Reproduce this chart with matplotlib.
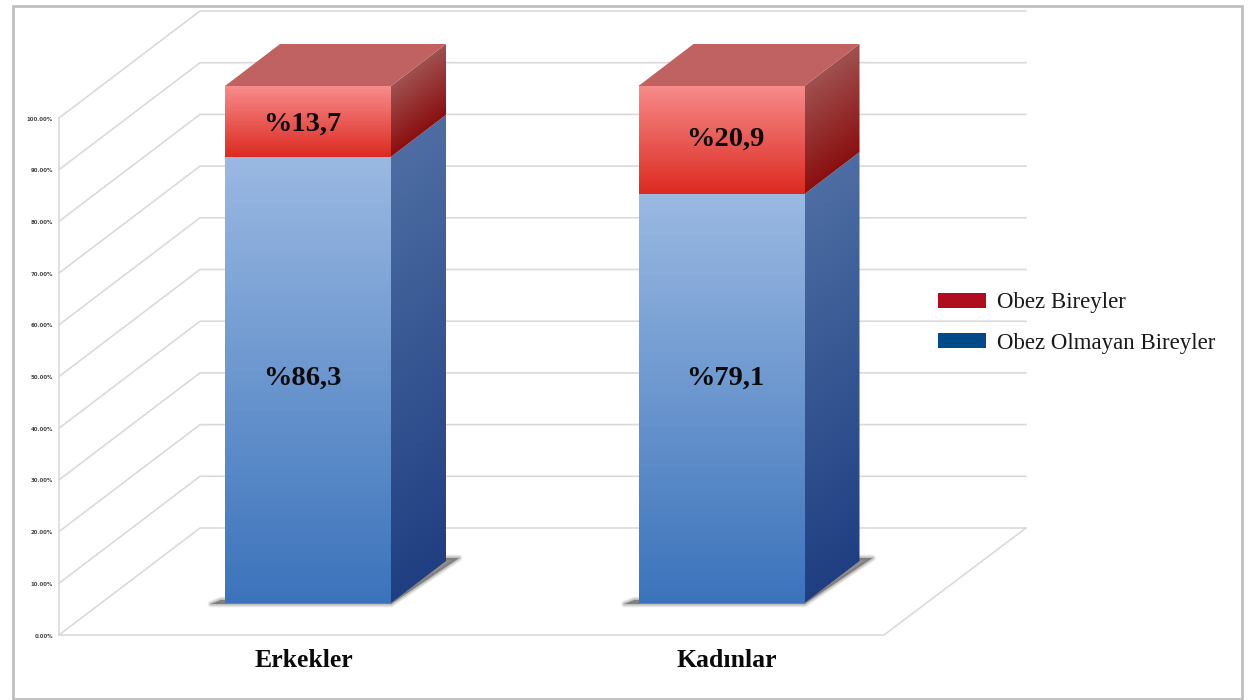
import numpy as np
import matplotlib
matplotlib.use("Agg")
import matplotlib.pyplot as plt
from matplotlib.patches import Polygon, Rectangle
from matplotlib.colors import LinearSegmentedColormap as LSC

categories = ["Erkekler", "Kadınlar"]
non_obese = [86.3, 79.1]
obese = [13.7, 20.9]
series_names = ["Obez Bireyler", "Obez Olmayan Bireyler"]
ticks = [0, 10, 20, 30, 40, 50, 60, 70, 80, 90, 100]

W, H = 1259, 700
UX = 413.5          # px per category step
UY = 5.17           # px per percent
X0, Y0 = 308, 603   # px of first bar centre / bar base

fig = plt.figure(figsize=(W / 100, H / 100), dpi=100)
ax = fig.add_axes([0, 0, 1, 1])
ax.set_xlim(-X0 / UX, (W - X0) / UX)
ax.set_ylim((Y0 - H) / UY, Y0 / UY)
ax.axis("off")

serif = ["Liberation Serif", "DejaVu Serif"]
bar_half = 83 / UX
bar_dx, bar_dy = 55 / UX, 42 / UY
wall_dx, wall_dy = 141 / UX, 107 / UY
floor_y = -32 / UY                 # value-zero level of the front axis
axis_x = (59 - X0) / UX
front_right = (884 - X0) / UX
wall_right = (1026 - X0) / UX

# frame
ax.add_patch(Rectangle(((12.5 - X0) / UX, (Y0 - 698.5) / UY), 1229 / UX, 693 / UY,
                       fill=False, ec="#bdbdbd", lw=1.9, zorder=1))

# gridlines and walls
GRID = "#dadada"
for t in ticks:
    y = floor_y + t
    xs = [axis_x, axis_x + wall_dx, wall_right]
    ys = [y, y + wall_dy, y + wall_dy]
    ax.plot(xs, ys, color=GRID, lw=1.2, zorder=2, solid_joinstyle="round")
    ax.text(axis_x - 6 / UX, y - 0.2, f"{t:.2f}%", ha="right", va="center", fontsize=3.9,
            fontweight="bold", color="#444444", family="DejaVu Sans", zorder=3)
ax.plot([axis_x, axis_x], [floor_y, floor_y + 100], color=GRID, lw=1.2, zorder=2)
ax.plot([axis_x, front_right, wall_right], [floor_y, floor_y, floor_y + wall_dy],
        color=GRID, lw=1.2, zorder=2)


def grad_front(x0, x1, y0, y1, top, bottom, z):
    cmap = LSC.from_list("g", [bottom, top])
    ax.imshow(np.linspace(0, 1, 256)[::-1, None], extent=(x0, x1, y0, y1), cmap=cmap,
              aspect="auto", origin="upper", zorder=z, vmin=0, vmax=1)


def grad_side(x0, y0, y1, top, bottom, z):
    cmap = LSC.from_list("g", [bottom, top])
    nx, ny = 60, 300
    u = np.linspace(0, 1, nx)
    ymin, ymax = y0, y1 + bar_dy
    ys = np.linspace(ymax, ymin, ny)
    # fraction along the sheared height of the face
    arr = (ys[:, None] - u[None, :] * bar_dy - y0) / (y1 - y0)
    im = ax.imshow(np.clip(arr, 0, 1), extent=(x0, x0 + bar_dx, ymin, ymax), cmap=cmap,
                   aspect="auto", origin="upper", zorder=z, vmin=0, vmax=1)
    poly = Polygon([(x0, y0), (x0 + bar_dx, y0 + bar_dy), (x0 + bar_dx, y1 + bar_dy), (x0, y1)],
                   transform=ax.transData, fc="none", ec="none")
    ax.add_patch(poly)
    im.set_clip_path(poly)


for i, cat in enumerate(categories):
    c = i + 0.0
    l, r = c - bar_half, c + bar_half
    n, o = non_obese[i], obese[i]
    total = n + o
    # floor shadow
    shadow = [(l - 14 / UX, -1 / UY), (r, -1 / UY), (r + 68 / UX, 45 / UY),
              (r + 50 / UX, 45 / UY), (r, 0), (l, 3 / UY), (l - 4 / UX, 3 / UY)]
    for lw, a in [(5, 0.08), (3.5, 0.12), (2, 0.18)]:
        ax.add_patch(Polygon(shadow, fc="#4a4a4a", ec="#4a4a4a", lw=lw, alpha=a,
                             zorder=4, joinstyle="round"))
    ax.add_patch(Polygon(shadow, fc="#6a6262", ec="none", alpha=0.5, zorder=4))
    # side faces
    grad_side(r, 0, n, "#4d6da3", "#1f3f82", 5)
    grad_side(r, n, total, "#a05050", "#8a0f0f", 5)
    # front faces
    grad_front(l, r, 0, n, "#9bb9e2", "#3b73bb", 6)
    grad_front(l, r, n, total, "#f78c8c", "#dc2a20", 6)
    # top
    ax.add_patch(Polygon([(l, total), (r, total), (r + bar_dx, total + bar_dy),
                          (l + bar_dx, total + bar_dy)], fc="#c06262", ec="none", zorder=6))
    # value labels
    lx = c + (-5 if i == 0 else 4.5) / UX
    ax.text(lx - 1 / UX, 43.5, f"%{n:.1f}".replace(".", ","), ha="center", va="center",
            fontsize=20.5, fontweight="bold", family=serif, color="#0a0a0a", zorder=8)
    ax.text(lx - 1 / UX, n + o / 2 + (-0.6 if i == 0 else 0.2), f"%{o:.1f}".replace(".", ","),
            ha="center", va="center", fontsize=20.5, fontweight="bold", family=serif,
            color="#0a0a0a", zorder=8)
    ax.text(lx + 1 / UX, -11.1, cat, ha="center", va="center", fontsize=18.5, fontweight="bold",
            family=serif, color="#0a0a0a", zorder=8)

ax.set_xlim(-X0 / UX, (W - X0) / UX)
ax.set_ylim((Y0 - H) / UY, Y0 / UY)

handles = [Rectangle((0, 0), 1, 1, fc="#b00e20", ec="none"),
           Rectangle((0, 0), 1, 1, fc="#004a87", ec="none")]
leg = ax.legend(handles, series_names, loc="center left",
                bbox_to_anchor=(929.5 / W, 1 - 323 / H), bbox_transform=fig.transFigure,
                frameon=False, prop={"family": serif, "size": 16.5}, handlelength=2.1,
                handleheight=0.61, handletextpad=0.48, labelspacing=0.83, borderaxespad=0,
                borderpad=0.36, labelcolor="#1a1a1a")
leg.set_zorder(9)

fig.savefig("out.png", dpi=100, facecolor="white")
